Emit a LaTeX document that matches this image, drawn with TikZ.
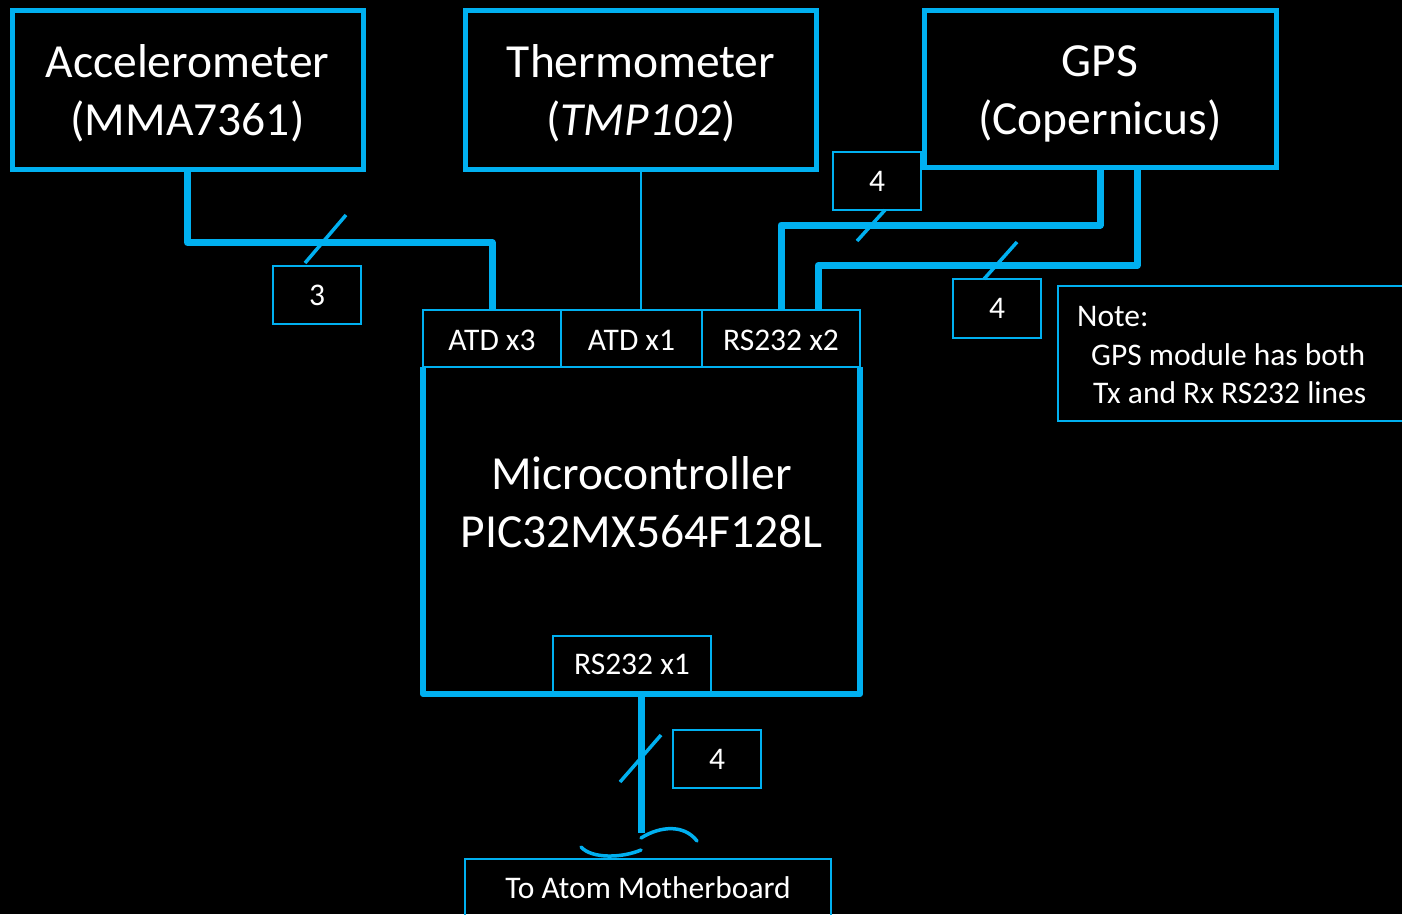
\documentclass[tikz,border=0pt]{standalone}
\usepackage{fontspec}
\setmainfont{Carlito}
\definecolor{cy}{HTML}{00B0F0}
\pgfdeclarelayer{back}
\pgfdeclarelayer{wires}
\pgfsetlayers{back,wires,main}
\begin{document}
\begin{tikzpicture}[x=1pt,y=-1pt,
  big/.style={font=\fontsize{47.5}{58}\selectfont, text=white},
  small/.style={font=\fontsize{31.5}{38.5}\selectfont, text=white},
  devbox/.style={draw=cy, line width=5pt, fill=black, minimum width=351pt, minimum height=159pt, inner sep=0pt},
  devtext/.style={big, align=center, inner sep=0pt},
  cell/.style={draw=cy, line width=2pt, fill=black, inner sep=0pt, small},
  conn/.style={draw=cy, line width=7pt, line cap=round, line join=round},
  thinconn/.style={draw=cy, line width=2.5pt},
  slash/.style={draw=cy, line width=3.5pt},
  brkline/.style={draw=cy, line width=3.5pt, line cap=round},
  notetext/.style={small, anchor=base west, inner sep=0pt},
]
\useasboundingbox (0,0) rectangle (1402,914);
\begin{pgfonlayer}{back}
  \fill[black] (0,0) rectangle (1402,914);
\end{pgfonlayer}

% devices
\node[devbox] (acc) at (187.5,89.5) {};
\node[devtext] (accT) at ([yshift=-4pt]acc.center) {Accelerometer\\(MMA7361)};
\node[devbox] (thermo) at (641,89.5) {};
\node[devtext] (thermoT) at ([yshift=-4pt]thermo.center) {Thermometer\\(\textit{TMP102})};
\node[devbox, minimum width=352pt, minimum height=157pt] (gps) at (1100,89) {};
\node[devtext] (gpsT) at ([yshift=-5pt]gps.center) {GPS\\(Copernicus)};

% microcontroller
\node[big, align=center, minimum width=437pt, minimum height=384pt, inner sep=0pt] (mcu) at (641.5,502) {Microcontroller\\PIC32MX564F128L};
\node[cell, minimum width=158pt, minimum height=56pt] (rsout) at (632,664) {RS232 x1};
\draw[cy, line width=5.5pt, line join=round] ([yshift=-57pt]mcu.north west) -- (mcu.south west) -- (mcu.south east) -- ([yshift=-57pt]mcu.north east);
\node[cell, minimum width=138pt, minimum height=57pt] (hdr1) at (492,338.5) {};
\node[cell, minimum width=141pt, minimum height=57pt] (hdr2) at (631.5,338.5) {};
\node[cell, minimum width=158pt, minimum height=57pt] (hdr3) at (781,338.5) {};
\node[small, inner sep=0pt] (hdr1T) at ([yshift=-2pt]hdr1.center) {ATD x3};
\node[small, inner sep=0pt] (hdr2T) at ([yshift=-2pt]hdr2.center) {ATD x1};
\node[small, inner sep=0pt] (hdr3T) at ([yshift=-2pt]hdr3.center) {RS232 x2};

% bus width labels
\node[cell, minimum width=88pt, minimum height=58pt] (lblA) at (317,295) {3};
\node[cell, minimum width=88pt, minimum height=58pt] (lblB) at (877,181) {4};
\node[cell, minimum width=88pt, minimum height=59pt] (lblC) at (997,308.5) {4};
\node[cell, minimum width=88pt, minimum height=58pt] (lblD) at (717,759) {4};

% note
\node[draw=cy, line width=2pt, anchor=west, minimum width=347pt, minimum height=135pt, inner sep=0pt] (note) at (1057,353.5) {};
\node[notetext] (note1) at (1077,326.5) {Note:};
\node[notetext] (note2) at (1091,365) {GPS module has both};
\node[notetext] (note3) at (1093,403.5) {Tx and Rx RS232 lines};

% destination
\node[small, draw=cy, line width=2pt, minimum width=366pt, minimum height=58pt, inner sep=0pt] (atom) at (648,888) {To Atom Motherboard};

% connectors
\begin{pgfonlayer}{wires}
  \draw[conn] (acc.south) -- ++(0,71) -| (hdr1.north);
  \draw[thinconn] (thermo.south) -- (thermo.south |- hdr2.north);
  \draw[conn] (gps.south) -- ++(0,55) -| (hdr3.north);
  \draw[conn] ([xshift=37pt]gps.south) -- ++(0,95.5) -| ([xshift=37pt]hdr3.north);
  \draw[conn, line cap=butt] (mcu.south) -- ++(0,139) coordinate (brk);
\end{pgfonlayer}

% slashes
\draw[slash] (305,263) -- (346,215);
\draw[slash] (857,241) -- (885,210);
\draw[slash] (984,279) -- (1017,242);
\draw[slash] (620,782) -- (661,735);

% cable break
\draw[brkline] (641,838) .. controls (660,826) and (684,824) .. (697,841);
\draw[brkline] (581,847) .. controls (592,859) and (622,858) .. (641,850);
\end{tikzpicture}
\end{document}
